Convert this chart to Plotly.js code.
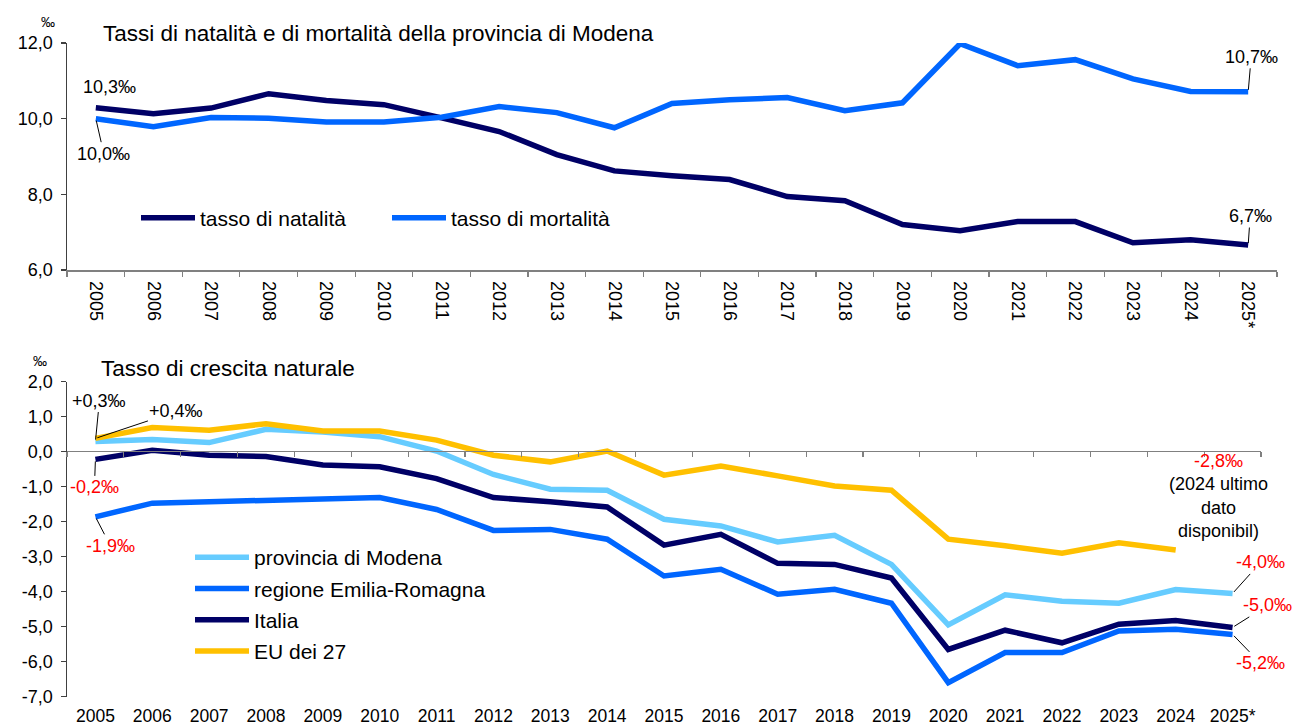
<!DOCTYPE html>
<html>
<head>
<meta charset="utf-8">
<script src="https://cdn.plot.ly/plotly-3.0.1.min.js"></script>
<style>html,body{margin:0;padding:0;background:#fff;}#chart{width:1296px;height:727px;}</style>
</head>
<body>
<div id="chart"></div>
<script>
// ---- data ----
const years = ["2005","2006","2007","2008","2009","2010","2011","2012","2013","2014","2015","2016","2017","2018","2019","2020","2021","2022","2023","2024","2025*"];
const natalita  = [10.29,10.13,10.28,10.66,10.48,10.37,10.02,9.66,9.05,8.62,8.49,8.39,7.94,7.83,7.20,7.04,7.28,7.28,6.72,6.80,6.66];
const mortalita = [10.00,9.79,10.03,10.01,9.91,9.91,10.04,10.32,10.16,9.76,10.40,10.50,10.56,10.21,10.42,11.98,11.40,11.56,11.05,10.72,10.71];
const modena    = [0.29,0.35,0.26,0.64,0.56,0.43,0.02,-0.65,-1.07,-1.10,-1.93,-2.12,-2.58,-2.39,-3.22,-4.95,-4.09,-4.27,-4.33,-3.94,-4.05];
const emilia    = [-1.86,-1.47,-1.43,-1.38,-1.34,-1.31,-1.65,-2.25,-2.22,-2.50,-3.55,-3.36,-4.07,-3.93,-4.33,-6.60,-5.74,-5.74,-5.12,-5.07,-5.22];
const italia    = [-0.22,0.04,-0.10,-0.14,-0.38,-0.43,-0.77,-1.31,-1.43,-1.58,-2.67,-2.36,-3.19,-3.22,-3.61,-5.65,-5.10,-5.46,-4.93,-4.82,-5.02];
const eu27      = [0.38,0.69,0.61,0.80,0.59,0.59,0.33,-0.10,-0.29,0.02,-0.67,-0.41,-0.69,-0.98,-1.10,-2.50,-2.69,-2.90,-2.60,-2.81,null];
const topTicks = [6,8,10,12];
const botTickVals = [2,1,0,-1,-2,-3,-4,-5,-6,-7];
const botTickText = ["2,0","1,0","0,0","-1,0","-2,0","-3,0","-4,0","-5,0","-6,0","-7,0"];

// ---- helpers ----
const W = 1296, H = 727;
const px = x => x / W;
const py = y => 1 - y / H;
const FONT = '"Liberation Sans", Arial, sans-serif';
const NAVY = '#000066', BLUE = '#0066ff', LIGHT = '#66ccff', GOLD = '#ffc000';
const LW = 5.5;

const traces = [
  {x: years, y: natalita, name: 'tasso di natalità', type: 'scatter', mode: 'lines', line: {color: NAVY, width: LW}, xaxis: 'x', yaxis: 'y', legend: 'legend'},
  {x: years, y: mortalita, name: 'tasso di mortalità', type: 'scatter', mode: 'lines', line: {color: BLUE, width: LW}, xaxis: 'x', yaxis: 'y', legend: 'legend'},
  {x: years, y: modena, name: 'provincia di Modena', type: 'scatter', mode: 'lines', line: {color: LIGHT, width: LW}, xaxis: 'x2', yaxis: 'y2', legend: 'legend2', legendgroup: 'a'},
  {x: years, y: emilia, name: 'regione Emilia-Romagna', type: 'scatter', mode: 'lines', line: {color: BLUE, width: LW}, xaxis: 'x2', yaxis: 'y2', legend: 'legend2', legendgroup: 'b'},
  {x: years, y: italia, name: 'Italia', type: 'scatter', mode: 'lines', line: {color: NAVY, width: LW}, xaxis: 'x2', yaxis: 'y2', legend: 'legend2', legendgroup: 'c'},
  {x: years, y: eu27, name: 'EU dei 27', type: 'scatter', mode: 'lines', line: {color: GOLD, width: LW}, xaxis: 'x2', yaxis: 'y2', legend: 'legend2', legendgroup: 'd'},
  {x: [], y: [], type: 'scatter', mode: 'lines', xaxis: 'x3', yaxis: 'y2', showlegend: false, hoverinfo: 'skip'}
];

const n = years.length;
const last = n - 1;
const first = 0;

function ann(text, xref, yref, xi, y, ax, ay, color, arrow) {
  return {
    text: text, xref: xref, yref: yref, x: xi, y: y,
    ax: ax, ay: ay, showarrow: arrow, arrowhead: 0, arrowwidth: 1, arrowcolor: '#000',
    standoff: 2,
    xshift: arrow ? 0 : ax, yshift: arrow ? 0 : -ay,
    font: {family: FONT, size: 18, color: color || '#000'}
  };
}

const annotations = [
  // titles
  {text: 'Tassi di natalità e di mortalità della provincia di Modena', xref: 'paper', yref: 'paper', x: px(101), y: py(33), xanchor: 'left', yanchor: 'middle', showarrow: false, font: {family: FONT, size: 22.5, color: '#000'}},
  {text: 'Tasso di crescita naturale', xref: 'paper', yref: 'paper', x: px(99), y: py(368), xanchor: 'left', yanchor: 'middle', showarrow: false, font: {family: FONT, size: 22.5, color: '#000'}},
  // unit labels
  {text: '‰', xref: 'paper', yref: 'paper', x: px(48), y: py(22), xanchor: 'center', yanchor: 'middle', showarrow: false, font: {family: FONT, size: 14, color: '#000'}},
  {text: '‰', xref: 'paper', yref: 'paper', x: px(40), y: py(361), xanchor: 'center', yanchor: 'middle', showarrow: false, font: {family: FONT, size: 14, color: '#000'}},
  // top chart labels
  ann('10,3‰', 'x', 'y', first, natalita[first], 14, -21, '#000', false),
  ann('10,0‰', 'x', 'y', first, mortalita[first], 8, 35, '#000', true),
  ann('10,7‰', 'x', 'y', last, mortalita[last], 3, -35, '#000', true),
  ann('6,7‰', 'x', 'y', last, natalita[last], 2, -29, '#000', true),
  // bottom chart labels
  ann('+0,3‰', 'x2', 'y2', first, modena[first], 4, -41, '#000', true),
  ann('+0,4‰', 'x2', 'y2', first, eu27[first], 81, -27, '#000', true),
  ann('-0,2‰', 'x2', 'y2', first, italia[first], -1, 28, '#ff0000', true),
  ann('-1,9‰', 'x2', 'y2', first, emilia[first], 15, 29, '#ff0000', true),
  ann('-4,0‰', 'x2', 'y2', last, modena[last], 28, -31, '#ff0000', true),
  ann('-5,0‰', 'x2', 'y2', last, italia[last], 35, -22, '#ff0000', true),
  ann('-5,2‰', 'x2', 'y2', last, emilia[last], 28, 29, '#ff0000', true),
  {text: '<span style="color:#ff0000">-2,8‰</span><br>(2024 ultimo<br>dato<br>disponibil)', xref: 'x2', yref: 'y2', x: last - 1, y: eu27[last - 1],
   xshift: 43, yshift: 54, showarrow: false, align: 'center', xanchor: 'center', yanchor: 'middle',
   font: {family: FONT, size: 18, color: '#000'}}
];

const axisCommon = {
  showgrid: false, zeroline: false, showline: true, linewidth: 1.5,
  ticks: 'outside', ticklen: 5, tickwidth: 1.2,
  tickfont: {family: FONT, size: 18, color: '#000'}
};

const layout = {
  width: W, height: H,
  margin: {l: 0, r: 0, t: 0, b: 0, pad: 0},
  paper_bgcolor: '#fff', plot_bgcolor: 'rgba(0,0,0,0)',
  separators: ',.',
  font: {family: FONT, size: 18, color: '#000'},
  hovermode: false,
  xaxis: Object.assign({}, axisCommon, {
    type: 'category', domain: [px(67), px(1277)], anchor: 'y', range: [-0.5, n - 0.5],
    tickangle: 90, tickson: 'boundaries', linecolor: '#808080', tickcolor: '#808080', ticklabelstandoff: 6
  }),
  yaxis: Object.assign({}, axisCommon, {
    domain: [py(270), py(43)], anchor: 'x', range: [6, 12], tickvals: topTicks, tickformat: '.1f',
    linecolor: '#404040', tickcolor: '#404040', ticklabelstandoff: 4
  }),
  xaxis2: Object.assign({}, axisCommon, {
    type: 'category', domain: [px(67), px(1261)], anchor: 'y2', range: [-0.5, n - 0.5],
    showline: false, ticks: 'outside', ticklen: 3, tickcolor: 'rgba(0,0,0,0)',
    tickfont: {family: FONT, size: 17.5, color: '#000'}
  }),
  xaxis3: Object.assign({}, axisCommon, {
    overlaying: 'x2', domain: [px(67), px(1261)], anchor: 'free', position: py(450.7), side: 'bottom',
    type: 'linear', range: [-0.5, n - 0.5], tick0: -0.5, dtick: 1, showticklabels: false,
    linecolor: '#808080', tickcolor: '#808080'
  }),
  yaxis2: Object.assign({}, axisCommon, {
    domain: [py(696.7), py(381.7)], anchor: 'x2', range: [-7, 2], tickvals: botTickVals, ticktext: botTickText,
    linecolor: '#404040', tickcolor: '#404040', ticklabelstandoff: 4
  }),
  legend: {
    orientation: 'h', x: px(136), y: py(218), xanchor: 'left', yanchor: 'middle',
    bgcolor: 'rgba(0,0,0,0)', font: {family: FONT, size: 21, color: '#000'},
    itemwidth: 54, entrywidth: 182, entrywidthmode: 'pixels'
  },
  legend2: {
    orientation: 'v', x: px(190), y: py(537), xanchor: 'left', yanchor: 'top',
    bgcolor: 'rgba(0,0,0,0)', font: {family: FONT, size: 21, color: '#000'},
    itemwidth: 54, tracegroupgap: 1
  },
  annotations: annotations,
  showlegend: true
};

Plotly.newPlot('chart', traces, layout, {displayModeBar: false, staticPlot: true});
</script>
</body>
</html>
